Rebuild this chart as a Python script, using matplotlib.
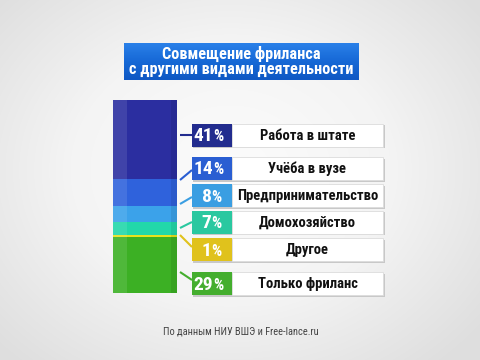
import matplotlib
matplotlib.use("Agg")
import matplotlib.pyplot as plt
import numpy as np
from matplotlib.patches import Rectangle
from matplotlib.colors import LinearSegmentedColormap

# ---- data ----
categories = ["Работа в штате", "Учёба в вузе", "Предпринимательство",
              "Домохозяйство", "Другое", "Только фриланс"]
values = [41, 14, 8, 7, 1, 29]
seg_colors = ["#2b2ea0", "#2f62dc", "#3ba2ea", "#22d8aa", "#e8e21e", "#3cb024"]
box_colors = ["#222c8e", "#2a5ed2", "#3a9ee2", "#2ac8a0", "#e0c21c", "#44ae2e"]
title = "Совмещение фриланса\nс другими видами деятельности"
source = "По данным НИУ ВШЭ и Free-lance.ru"

FONT = ["Roboto Condensed", "DejaVu Sans"]

W, H = 480, 360
fig = plt.figure(figsize=(W / 100, H / 100), dpi=100)

# background overlay axes in pixel coordinates
bg = fig.add_axes([0, 0, 1, 1])
bg.set_xlim(0, W)
bg.set_ylim(H, 0)
bg.axis("off")
yy, xx = np.mgrid[0:H, 0:W]
r = np.sqrt(((xx - 230) / 320.0) ** 2 + ((yy - 170) / 260.0) ** 2)
grad = np.clip(r, 0, 1)
cmap = LinearSegmentedColormap.from_list("bgc", ["#fcfcfc", "#f4f4f4", "#dedede"])
bg.imshow(grad, cmap=cmap, extent=[0, W, H, 0], aspect="auto", zorder=0)

# title box
tb = np.linspace(0, 1, 40).reshape(-1, 1)
tcmap = LinearSegmentedColormap.from_list("tb", ["#2a80e8", "#1668d6", "#0f58c4"])
bg.imshow(tb, cmap=tcmap, extent=[124, 359, 80, 43], aspect="auto", zorder=2)
bg.text(241.5, 61.5, title, ha="center", va="center", color="white",
        fontsize=11.7, fontweight="bold", family=FONT, linespacing=1.0, zorder=3)

# ---- stacked bar (data-driven) ----
bar_left, bar_right, bar_top, bar_bot = 113, 177, 100, 293
axb = fig.add_axes([bar_left / W, 1 - bar_bot / H,
                    (bar_right - bar_left) / W, (bar_bot - bar_top) / H])
axb.set_xlim(-0.5, 0.5)
axb.set_ylim(0, sum(values))
axb.axis("off")
bottom = 0
for i in reversed(range(len(values))):
    axb.bar(0, values[i], width=1.0, bottom=bottom, color=seg_colors[i],
            edgecolor="none", zorder=1)
    # lighter left face for a 3D look
    axb.bar(-0.39, values[i], width=0.22, bottom=bottom, color="white",
            alpha=0.10, edgecolor="none", zorder=2)
    # darker right edge
    axb.bar(0.45, values[i], width=0.10, bottom=bottom, color="black",
            alpha=0.08, edgecolor="none", zorder=2)
    bottom += values[i]

# ---- label rows ----
row_centers = [135, 168.5, 195.5, 222, 249.5, 283.5]
line_from = [135, 180, 204, 228, 235, 272]
line_to = [135, 170, 197, 222, 247, 280]
row_h = 23
pbox_l, pbox_r, lbox_r = 192, 232, 383
for i, (cat, v) in enumerate(zip(categories, values)):
    yc = row_centers[i]
    # connector line from bar to box
    bg.plot([bar_right + 3, pbox_l], [line_from[i], line_to[i]],
            color=box_colors[i], lw=1.5, zorder=2, solid_capstyle="butt")
    # shadow
    bg.add_patch(Rectangle((pbox_l + 1, yc - row_h / 2 + 1.5), lbox_r - pbox_l + 0.5, row_h,
                           facecolor="#c8c8c8", edgecolor="none", zorder=2))
    bg.add_patch(Rectangle((pbox_r, yc - row_h / 2), lbox_r - pbox_r, row_h,
                           facecolor="white", edgecolor="#dcdcdc", lw=0.6, zorder=3))
    bg.add_patch(Rectangle((pbox_l, yc - row_h / 2), pbox_r - pbox_l, row_h,
                           facecolor=box_colors[i], edgecolor="none", zorder=4))
    split = 213.5 if v >= 10 else 211.5
    bg.text(split, yc + 1, str(v), ha="right", va="center", color="white",
            fontsize=14, fontweight="bold", family=FONT, zorder=5)
    bg.text(split, yc + 1.5, "%", ha="left", va="center", color="white",
            fontsize=11.5, fontweight="bold", family=FONT, zorder=5)
    bg.text((pbox_r + lbox_r) / 2, yc + 0.5, cat, ha="center", va="center",
            color="#111111", fontsize=10.5, fontweight="bold", family=FONT, zorder=5)

bg.text(241, 331, source, ha="center", va="center", color="#444444",
        fontsize=7.5, family=FONT, zorder=3)

fig.savefig("out.png", dpi=100)
